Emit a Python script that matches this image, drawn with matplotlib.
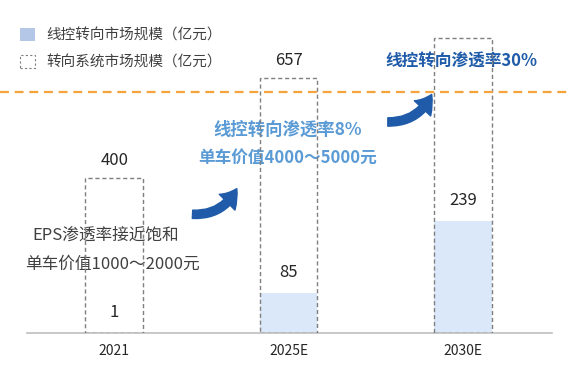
import matplotlib.pyplot as plt
from matplotlib.patches import Patch, FancyArrowPatch

plt.rcParams['font.family'] = ['Noto Sans CJK SC', 'DejaVu Sans']

# data
years = ['2021', '2025E', '2030E']
steer_total = [400, 657, 760]      # 转向系统市场规模 (2030E not labelled)
sbw_market = [1, 85, 239]          # 线控转向市场规模
total_labels = ['400', '657', None]

x = list(range(len(years)))
bar_w = 0.33

fig = plt.figure(figsize=(5.7, 3.78), dpi=100)
ax = fig.add_axes([27 / 570, 45 / 378, 525 / 570, 333 / 378])
ax2 = ax.twinx()

# filled bars on ax, dashed boxes (total) on ax2 so they sit on top
ax.bar(x, sbw_market, width=bar_w, color='#dae8fa', zorder=2)
ax2.bar(x, steer_total, width=bar_w, fill=False, edgecolor='#7f7f7f',
        linestyle=(0, (3, 2)), linewidth=1)

ax.set_xlim(-0.5, 2.51)
ax.set_ylim(0, 710)
ax2.set_ylim(0, 859)

for a in (ax, ax2):
    for s in ['top', 'right', 'left']:
        a.spines[s].set_visible(False)
    a.set_yticks([])
ax2.spines['bottom'].set_visible(False)
ax.spines['bottom'].set_color('#bfbfbf')
ax.spines['bottom'].set_linewidth(1.2)

ax.set_xticks(x)
ax.set_xticklabels(years)
ax.tick_params(axis='x', length=0, pad=8, labelsize=10, labelcolor='#262626')

# value labels
for xi, v in zip(x, sbw_market):
    ax.annotate(str(v), (xi, v), xytext=(0, 14.5), textcoords='offset points',
                ha='center', va='center', fontsize=12, color='#262626')
for xi, v, lab in zip(x, steer_total, total_labels):
    if lab:
        ax2.annotate(lab, (xi, v), xytext=(0, 12.5), textcoords='offset points',
                     ha='center', va='center', fontsize=12, color='#262626')

# orange threshold line across the whole figure
fig.add_artist(plt.Line2D([0, 1], [1 - 92 / 378, 1 - 92 / 378], transform=fig.transFigure,
                          color='#f5a33a', linewidth=1.6, linestyle=(0, (4, 2.6))))

# annotations
ax.text(0.149, 0.294, 'EPS渗透率接近饱和', transform=ax.transAxes, ha='center', va='center',
        fontsize=12, color='#404040')
ax.text(0.162, 0.207, '单车价值1000～2000元', transform=ax.transAxes, ha='center', va='center',
        fontsize=12, color='#404040')
ax.text(0.497, 0.610, '线控转向渗透率8%', transform=ax.transAxes, ha='center', va='center',
        fontsize=12.5, color='#5b9bd5', fontweight='bold')
ax.text(0.497, 0.526, '单车价值4000～5000元', transform=ax.transAxes, ha='center', va='center',
        fontsize=12, color='#5b9bd5', fontweight='bold')
ax.text(0.827, 0.814, '线控转向渗透率30%', transform=ax.transAxes, ha='center', va='center',
        fontsize=12, color='#1f5ba8', fontweight='bold')

# curved arrows
for (x0, y0), (x1, y1) in [((0.310, 0.357), (0.402, 0.441)), ((0.682, 0.634), (0.773, 0.724))]:
    arr = FancyArrowPatch((x0, y0), (x1, y1), transform=ax.transAxes,
                          connectionstyle='arc3,rad=0.35',
                          arrowstyle='simple,head_width=16,head_length=12,tail_width=6',
                          color='#1f5ba8', mutation_scale=1, clip_on=False)
    ax.add_artist(arr)

# legend
handles = [Patch(facecolor='#b4c7e7', edgecolor='none'),
           Patch(facecolor='none', edgecolor='#7f7f7f', linestyle=(0, (2, 2)), linewidth=0.8)]
fig.legend(handles, ['线控转向市场规模（亿元）', '转向系统市场规模（亿元）'],
           loc='upper left', bbox_to_anchor=(0.012, 0.96), frameon=False,
           fontsize=10.5, handlelength=1.05, handleheight=0.95, handletextpad=0.75,
           labelspacing=0.85, labelcolor='#404040')

fig.savefig('out.png', dpi=100)
